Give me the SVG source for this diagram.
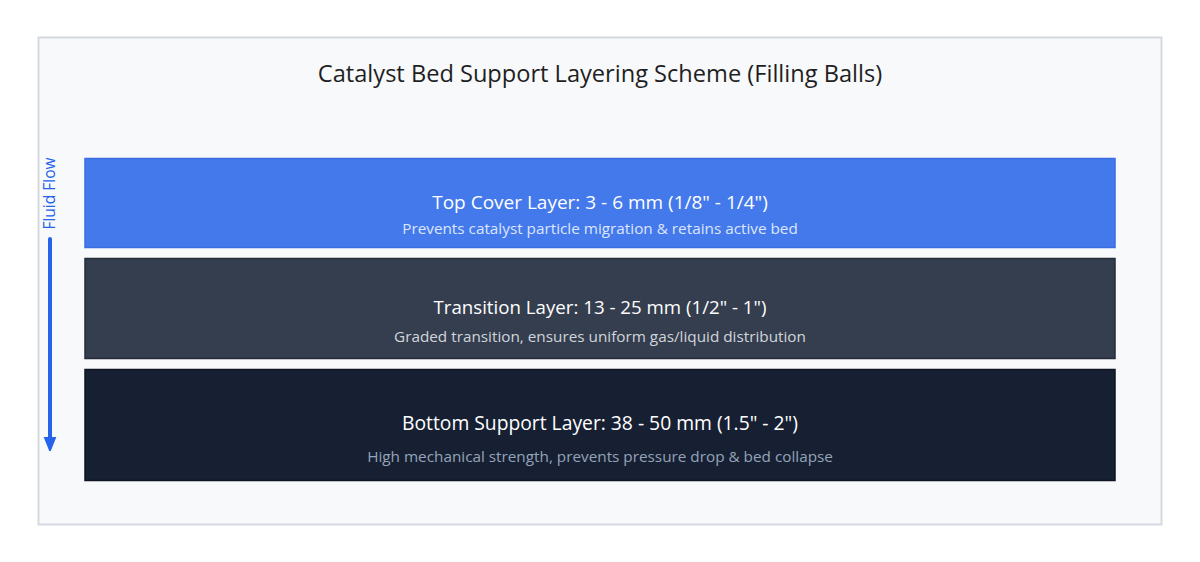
<svg xmlns="http://www.w3.org/2000/svg" width="1200" height="562" viewBox="0 0 1200 562">
<defs>
<style>
text{font-family:"Open Sans","Liberation Sans",sans-serif;text-anchor:middle}
.t{font-size:19px;fill:#ffffff}
.s{font-size:15.3px}
</style>
<marker id="ah" viewBox="0 0 10 10" refX="5" refY="5" markerWidth="3.5" markerHeight="3.5" orient="auto" markerUnits="strokeWidth">
<path d="M0,1 L10,5 L0,9 z" fill="#2563eb" stroke="#2563eb" stroke-width="1" stroke-linejoin="round"/>
</marker>
</defs>
<rect width="1200" height="562" fill="#ffffff"/>
<rect x="38.5" y="37.5" width="1123" height="487" fill="#f8f9fb" stroke="#d5d9e1" stroke-width="2"/>
<text x="600" y="82" style="font-size:23.6px;fill:#1f1f1f">Catalyst Bed Support Layering Scheme (Filling Balls)</text>
<g id="top-layer">
<rect x="85" y="158.5" width="1030" height="89" fill="#4479ec" stroke="#3a6ee0" stroke-width="1.5"/>
<text class="t" x="600" y="209">Top Cover Layer: 3 - 6 mm (1/8" - 1/4")</text>
<text class="s" x="600" y="234" fill="#dce6fc">Prevents catalyst particle migration &amp; retains active bed</text>
</g>
<g id="transition-layer">
<rect x="85" y="258.5" width="1030" height="100" fill="#353e4e" stroke="#252d3a" stroke-width="1.5"/>
<text class="t" x="600" y="314" style="font-size:18.7px">Transition Layer: 13 - 25 mm (1/2" - 1")</text>
<text class="s" x="600" y="342" fill="#d1d5db">Graded transition, ensures uniform gas/liquid distribution</text>
</g>
<g id="bottom-layer">
<rect x="85" y="369.5" width="1030" height="111" fill="#172033" stroke="#0e1522" stroke-width="1.5"/>
<text class="t" x="600" y="430" style="font-size:19.3px">Bottom Support Layer: 38 - 50 mm (1.5" - 2")</text>
<text class="s" x="600" y="462" fill="#94a3b8">High mechanical strength, prevents pressure drop &amp; bed collapse</text>
</g>
<g id="connectors">
<line x1="50" y1="239" x2="50" y2="444" stroke="#2563eb" stroke-width="4" stroke-linecap="round" marker-end="url(#ah)"/>
</g>
<g id="flow-label">
<text x="0" y="0" transform="translate(55,193.5) rotate(-90)" style="font-size:15.5px;fill:#2563eb">Fluid Flow</text>
</g>
</svg>
